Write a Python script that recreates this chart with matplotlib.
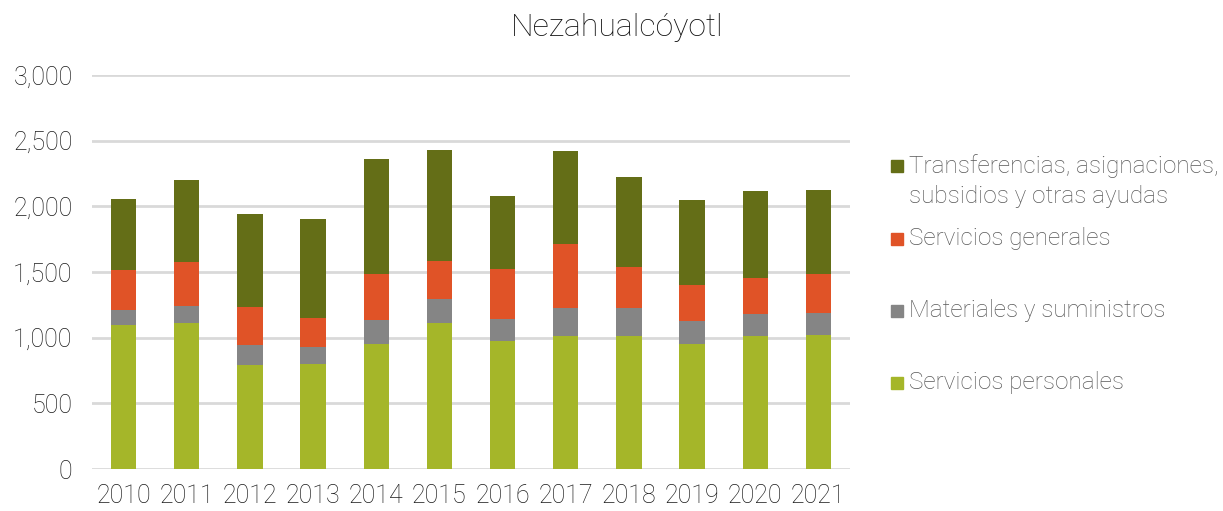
import matplotlib
matplotlib.use("Agg")
import matplotlib.pyplot as plt
from matplotlib.patches import Rectangle
from matplotlib.ticker import FuncFormatter
import numpy as np

plt.rcParams['font.family'] = ['Roboto', 'DejaVu Sans']
plt.rcParams['font.weight'] = 'light'

years = ['2010', '2011', '2012', '2013', '2014', '2015',
         '2016', '2017', '2018', '2019', '2020', '2021']
personales = [1096, 1114, 793, 798, 951, 1109, 971, 1014, 1014, 953, 1009, 1022]
materiales = [112, 127, 148, 130, 180, 188, 171, 212, 212, 173, 173, 168]
generales = [310, 335, 295, 221, 354, 290, 378, 490, 315, 275, 270, 295]
transferencias = [541, 621, 704, 753, 875, 844, 560, 702, 681, 646, 663, 638]

labels = ['Servicios personales', 'Materiales y suministros',
          'Servicios generales',
          'Transferencias, asignaciones,\nsubsidios y otras ayudas']
colors = ['#a5b629', '#858585', '#e05327', '#646e17']
series = [personales, materiales, generales, transferencias]

fig = plt.figure(figsize=(12.23, 5.11), dpi=100)
ax = fig.add_axes([92/1223, 1 - 469/511, (850-92)/1223, (469-75)/511])

x = np.arange(len(years))
bottom = np.zeros(len(years))
for vals, c in zip(series, colors):
    ax.bar(x, vals, width=0.4, bottom=bottom, color=c, edgecolor='none', zorder=3)
    bottom += np.array(vals)

ax.set_xlim(-0.5, len(years) - 0.5)
ax.set_ylim(0, 3000)
ax.set_yticks(range(0, 3001, 500))
ax.yaxis.set_major_formatter(FuncFormatter(lambda v, p: f'{int(v):,}'))
ax.set_xticks(x)
ax.set_xticklabels(years)
ax.grid(axis='y', color='#d9d9d9', lw=2, zorder=0)
for s in ax.spines.values():
    s.set_visible(False)
ax.tick_params(length=0, labelsize=18, colors='#1a1a1a')
ax.tick_params(axis='y', pad=14)
ax.tick_params(axis='x', pad=11)

fig.text(617/1223, 1 - 27/511, 'Nezahualcóyotl', ha='center', va='center',
         fontsize=23, color='#111111')

# legend, drawn by hand to keep Excel-like spacing
leg_y = [383, 311, 239, 166]
for lab, c, yy in zip(labels, colors, leg_y):
    fig.patches.append(Rectangle((891/1223, 1 - (yy + 6)/511), 12/1223, 12/511,
                                 transform=fig.transFigure, color=c))
    fig.text(909/1223, 1 - (yy - 12)/511, lab, ha='left', va='top',
             fontsize=17.5, color='#595959', linespacing=1.38)

fig.savefig('out.png', dpi=100)
